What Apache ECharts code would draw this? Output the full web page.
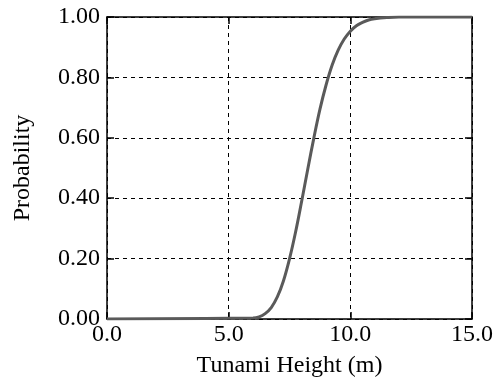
<!DOCTYPE html>
<html>
<head>
<meta charset="utf-8">
<script src="https://cdn.jsdelivr.net/npm/echarts@6/dist/echarts.min.js"></script>
<style>html,body{margin:0;padding:0;background:#fff}#c{width:497px;height:385px}</style>
</head>
<body>
<div id="c"></div>
<script>
var heights = [0, 6.0, 6.25, 6.5, 6.75, 7.0, 7.25, 7.5, 7.75, 8.0, 8.25, 8.5, 8.75, 9.0, 9.25, 9.5, 9.75, 10.0, 10.25, 10.5, 10.75, 11.0, 11.5, 12.0, 15.0];
var probs   = [0, 0.003, 0.007, 0.018, 0.038, 0.073, 0.126, 0.199, 0.288, 0.390, 0.496, 0.599, 0.694, 0.774, 0.840, 0.890, 0.927, 0.953, 0.971, 0.982, 0.990, 0.994, 0.998, 1.0, 1.0];
var xTitle = 'Tunami Height (m)';
var yTitle = 'Probability';

var font = '"Liberation Serif", "Times New Roman", serif';
var fs = 24;
var data = heights.map(function(h, i){ return [h, probs[i]]; });
var chart = echarts.init(document.getElementById('c'));
var gridLine = {show: true, lineStyle: {color: '#000', type: [4, 4], width: 1}};
chart.setOption({
  animation: false,
  grid: {left: 107, right: 25, top: 17, bottom: 66},
  xAxis: [{
    type: 'value', min: 0, max: 15, interval: 5,
    name: xTitle, nameLocation: 'middle', nameGap: 35,
    nameTextStyle: {fontFamily: font, fontSize: fs, color: '#000'},
    axisLine: {show: true, onZero: false, lineStyle: {color: '#000', width: 1.5}},
    axisTick: {show: true, inside: true, length: 7, lineStyle: {color: '#000', width: 1.5}},
    axisLabel: {fontFamily: font, fontSize: fs, color: '#000', margin: 4, formatter: function(v){return v.toFixed(1);}},
    splitLine: gridLine
  }, {
    type: 'value', min: 0, max: 15, interval: 5, position: 'top',
    axisLine: {show: true, onZero: false, lineStyle: {color: '#000', width: 1.5}},
    axisTick: {show: true, inside: true, length: 7, lineStyle: {color: '#000', width: 1.5}},
    axisLabel: {show: false}, splitLine: {show: false}
  }],
  yAxis: [{
    type: 'value', min: 0, max: 1, interval: 0.2,
    name: yTitle, nameLocation: 'middle', nameGap: 72,
    nameTextStyle: {fontFamily: font, fontSize: fs, color: '#000'},
    axisLine: {show: true, onZero: false, lineStyle: {color: '#000', width: 1.5}},
    axisTick: {show: true, inside: true, length: 7, lineStyle: {color: '#000', width: 1.5}},
    axisLabel: {fontFamily: font, fontSize: fs, color: '#000', margin: 7, formatter: function(v){return v.toFixed(2);}},
    splitLine: gridLine
  }, {
    type: 'value', min: 0, max: 1, interval: 0.2, position: 'right',
    axisLine: {show: true, onZero: false, lineStyle: {color: '#000', width: 1.5}},
    axisTick: {show: true, inside: true, length: 7, lineStyle: {color: '#000', width: 1.5}},
    axisLabel: {show: false}, splitLine: {show: false}
  }],
  series: [{
    type: 'line', data: data, showSymbol: false, smooth: 0.4,
    lineStyle: {color: '#5a5a5a', width: 3}, clip: true
  }]
});
</script>
</body>
</html>
